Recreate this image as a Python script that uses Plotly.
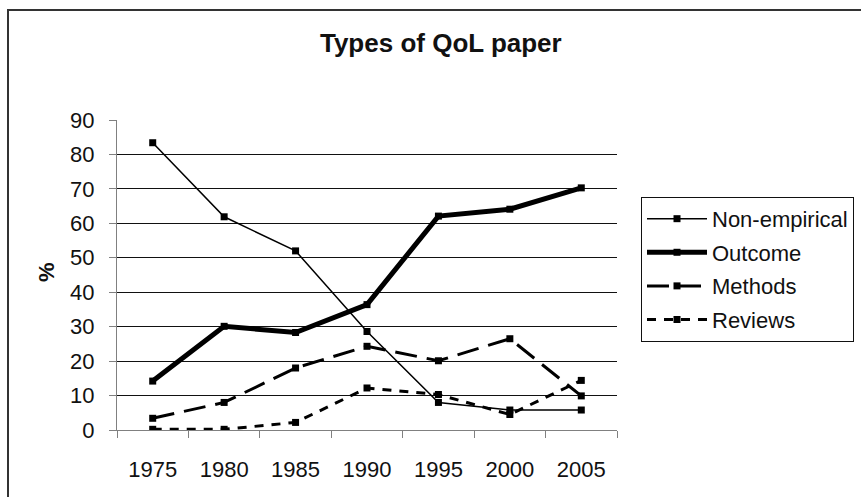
import plotly.graph_objects as go

years = ["1975", "1980", "1985", "1990", "1995", "2000", "2005"]
non_empirical = [83.4, 61.9, 52.0, 28.6, 8.0, 5.8, 5.8]
outcome = [14.2, 30.1, 28.3, 36.4, 62.1, 64.1, 70.3]
methods = [3.4, 8.0, 18.0, 24.3, 20.1, 26.5, 9.9]
reviews = [0.2, 0.2, 2.2, 12.2, 10.3, 4.5, 14.4]
y_ticks = [0, 10, 20, 30, 40, 50, 60, 70, 80, 90]

FONT = "Liberation Sans, Arial, sans-serif"

fig = go.Figure()
series = [
    ("Non-empirical", non_empirical, 1.5, "solid"),
    ("Outcome", outcome, 5, "solid"),
    ("Methods", methods, 3, "22px,10px"),
    ("Reviews", reviews, 3, "9px,8px"),
]
for name, vals, w, dash in series:
    fig.add_trace(go.Scatter(
        x=years, y=vals, name=name, mode="lines+markers",
        line=dict(color="black", width=w, dash=dash),
        marker=dict(symbol="square", size=7, color="black"),
        legendgroup=name,
    ))

fig.update_layout(
    width=861, height=497,
    margin=dict(l=117, r=244, t=120, b=67, autoexpand=False),
    paper_bgcolor="white", plot_bgcolor="white",
    font=dict(family=FONT, size=22, color="#111"),
    title=dict(text="<b>Types of QoL paper</b>", x=0.512, xanchor="center",
               y=0.913, yanchor="middle", font=dict(size=26, family=FONT, color="#111")),
    showlegend=True,
    legend=dict(x=1.048, xanchor="left", y=0.752, yanchor="top",
                bordercolor="#111", borderwidth=1, bgcolor="white",
                font=dict(size=22, family=FONT, color="#111"),
                tracegroupgap=2, itemwidth=60),
)
fig.update_xaxes(
    type="category", range=[-0.5, 6.5], tickson="boundaries",
    ticks="outside", ticklen=7, tickcolor="#808080", tickwidth=1,
    showline=True, linecolor="#808080", linewidth=1,
    showgrid=False, zeroline=False, ticklabelstandoff=20,
    tickfont=dict(size=22, family=FONT, color="#111"),
)
fig.update_yaxes(
    range=[0, 90], tickvals=y_ticks, ticks="outside", ticklen=7,
    tickcolor="#808080", tickwidth=1, showline=True, linecolor="#808080",
    linewidth=1, showgrid=True, gridcolor="#111", gridwidth=1,
    zeroline=False, ticklabelstandoff=10,
    tickfont=dict(size=22, family=FONT, color="#111"),
)
fig.add_annotation(text="<b>%</b>", xref="paper", yref="paper", x=-0.14, y=0.51,
                   textangle=-90, showarrow=False, xanchor="center", yanchor="middle",
                   font=dict(size=22, family=FONT, color="#111"))
fig.add_shape(type="rect", xref="paper", yref="paper", x0=-0.218, x1=1.6,
              y0=-0.3, y1=1.3548, line=dict(color="#333", width=2), layer="below")

fig.write_html("out.html", config={"displayModeBar": False},
               post_script="document.body.style.margin='0';document.body.style.overflow='hidden';")
